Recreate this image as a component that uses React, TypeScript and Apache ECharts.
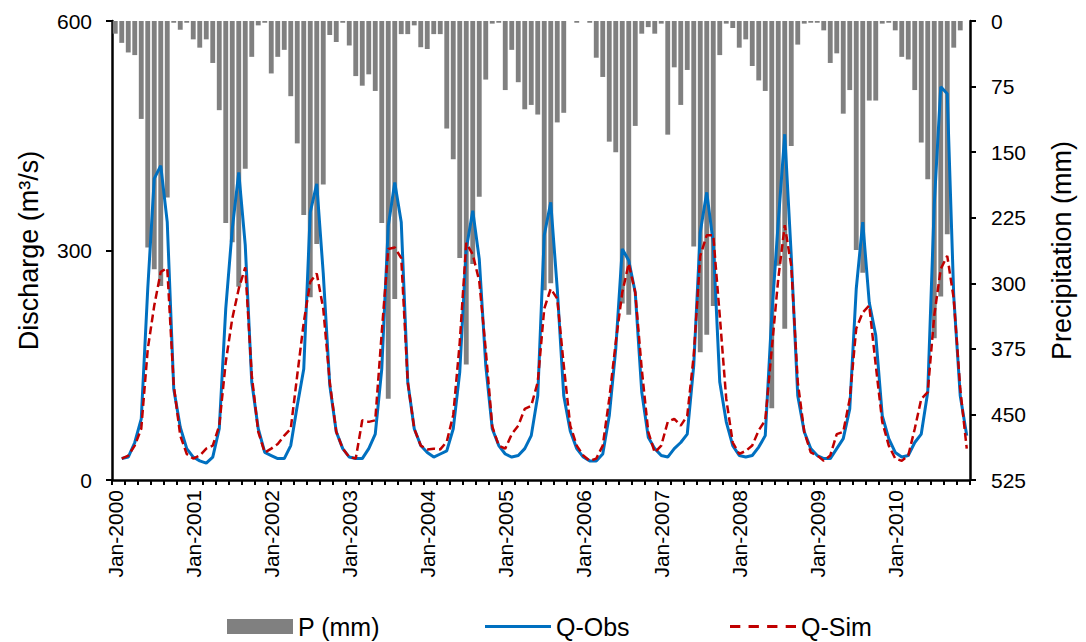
import React, { useEffect, useRef } from "react";
import * as echarts from "echarts";

// Tick labels / categories
const MONTHS = ["Jan", "Feb", "Mar", "Apr", "May", "Jun", "Jul", "Aug", "Sep", "Oct", "Nov", "Dec"];
const YEARS = [2000, 2001, 2002, 2003, 2004, 2005, 2006, 2007, 2008, 2009, 2010];
const CATEGORIES: string[] = [];
YEARS.forEach((y) => MONTHS.forEach((m) => CATEGORIES.push(`${m}-${y}`)));

// Monthly precipitation (mm), Jan-2000 .. Dec-2010
const P_MM: number[] = [
  14.5, 25, 36, 39, 112, 259, 284, 303, 202, 2, 10, 2,
  21, 30.5, 21, 48, 102, 231, 253, 304, 169, 41, 5, 2,
  60, 41, 33, 86, 140, 222, 316, 255, 187, 16, 24, 2,
  28, 63, 74, 61, 80, 231, 432, 318, 15, 15, 5, 30,
  32, 15, 15, 123, 158, 271, 393, 278, 201, 67, 3, 2,
  79, 33, 70, 101, 96, 107, 308, 300, 116, 105, 0, 2,
  0, 2, 42, 64, 138, 150, 323, 336, 120, 14.5, 7, 14.5,
  3, 130, 53, 96, 56, 258, 379, 359, 326, 39, 3, 8,
  30.5, 21, 51.5, 68, 80, 443, 280, 352, 143, 27, 3, 2,
  2, 10.7, 48, 37, 106, 79, 262, 288, 91, 91, 3, 2,
  10.7, 41, 44, 79, 139, 181, 363, 315, 244, 30.5, 10.7, 0,
];

// Observed discharge (m3/s)
const Q_OBS: (number | null)[] = [
  null, 28, 30, 49, 80, 250, 394, 411, 337, 119, 69, 41,
  30, 25, 22, 30, 67, 224, 328, 402, 307, 128, 67, 36,
  32, 28, 28, 45, 97, 145, 350, 387, 270, 124, 63, 41,
  30, 28, 28, 41, 60, 145, 332, 389, 337, 128, 67, 45,
  36, 30, 34, 38, 67, 141, 302, 352, 289, 150, 67, 45,
  34, 30, 32, 41, 58, 110, 320, 363, 250, 110, 64, 41,
  30, 25, 25, 34, 84, 171, 302, 287, 245, 115, 56, 41,
  32, 30, 41, 49, 60, 150, 324, 376, 310, 128, 76, 45,
  32, 30, 32, 43, 58, 215, 337, 452, 293, 110, 63, 41,
  32, 28, 28, 41, 54, 93, 250, 337, 232, 189, 84, 54,
  36, 30, 32, 49, 60, 115, 360, 514, 505, 240, 110, 58,
];

// Simulated discharge (m3/s)
const Q_SIM: (number | null)[] = [
  null, 28, 32, 45, 67, 171, 228, 272, 277, 124, 58, 34,
  28, 32, 41, 45, 71, 154, 211, 250, 278, 137, 63, 36,
  41, 47, 58, 67, 137, 206, 259, 270, 224, 128, 63, 41,
  30, 28, 78, 76, 78, 193, 302, 304, 290, 128, 67, 45,
  40, 41, 40, 50, 85, 180, 310, 295, 260, 170, 70, 45,
  41, 60, 71, 93, 97, 128, 224, 250, 237, 150, 71, 45,
  32, 25, 28, 45, 106, 180, 245, 283, 245, 145, 63, 36,
  45, 76, 80, 71, 84, 163, 293, 320, 320, 215, 106, 49,
  34, 38, 45, 65, 78, 171, 263, 333, 280, 128, 63, 36,
  32, 25, 32, 60, 63, 106, 198, 219, 228, 150, 76, 45,
  28, 25, 32, 67, 106, 115, 215, 276, 293, 237, 119, 41,
];

const FONT = "'Liberation Sans', Arial, Helvetica, sans-serif";

// legend icons (solid line and dashed line)
const ICON_SOLID = "path://M0 0H66V3H0Z";
const ICON_DASH = "path://M0 0H10V3H0Z M18 0H28V3H18Z M36 0H46V3H36Z M54 0H64V3H54Z";

const legendBase = {
  top: 609,
  itemWidth: 66,
  itemHeight: 15,
  textStyle: { fontSize: 25, color: "#000", fontFamily: FONT },
};

export default function App() {
  const ref = useRef<HTMLDivElement>(null);
  useEffect(() => {
    if (!ref.current) return;
    const chart = echarts.init(ref.current, undefined, { renderer: "svg" });
    chart.setOption({
      animation: false,
      backgroundColor: "#ffffff",
      textStyle: { fontFamily: FONT, color: "#000" },
      grid: { left: 112, right: 116, top: 21, bottom: 162, containLabel: false },
      legend: [
        { ...legendBase, left: 222, data: [{ name: "P (mm)", icon: "rect" }] },
        { ...legendBase, left: 480, data: [{ name: "Q-Obs", icon: ICON_SOLID }] },
        { ...legendBase, left: 725, data: [{ name: "Q-Sim", icon: ICON_DASH }] },
      ],
      xAxis: {
        type: "category",
        data: CATEGORIES,
        boundaryGap: true,
        axisLine: { show: true, lineStyle: { color: "#000", width: 2.5 } },
        axisTick: { show: true, interval: 1, length: 5, lineStyle: { color: "#000", width: 2 } },
        axisLabel: { interval: 11, rotate: 90, fontSize: 21, color: "#000", margin: 10, fontFamily: FONT },
        splitLine: { show: false },
      },
      yAxis: [
        {
          type: "value",
          position: "left",
          min: 0,
          max: 600,
          interval: 300,
          name: "Discharge (m³/s)",
          nameLocation: "middle",
          nameRotate: 90,
          nameGap: 70,
          nameTextStyle: { fontSize: 27, color: "#000", fontFamily: FONT },
          axisLine: { show: true, lineStyle: { color: "#000", width: 2.5 } },
          axisTick: { show: true, length: 6, lineStyle: { color: "#000", width: 2 } },
          axisLabel: { fontSize: 21, color: "#000", margin: 20, fontFamily: FONT },
          splitLine: { show: false },
        },
        {
          type: "value",
          position: "right",
          min: 0,
          max: 525,
          interval: 75,
          inverse: true,
          name: "Precipitation (mm)",
          nameLocation: "middle",
          nameRotate: 90,
          nameGap: 78,
          nameTextStyle: { fontSize: 27, color: "#000", fontFamily: FONT },
          axisLine: { show: true, lineStyle: { color: "#000", width: 2.5 } },
          axisTick: { show: true, length: 6, lineStyle: { color: "#000", width: 2 } },
          axisLabel: { fontSize: 21, color: "#000", margin: 21, fontFamily: FONT },
          splitLine: { show: false },
        },
      ],
      series: [
        {
          name: "P (mm)",
          type: "bar",
          yAxisIndex: 1,
          data: P_MM,
          barWidth: "75%",
          itemStyle: { color: "#808080" },
        },
        {
          name: "Q-Obs",
          type: "line",
          yAxisIndex: 0,
          data: Q_OBS,
          symbol: "none",
          showSymbol: false,
          lineStyle: { color: "#0070C0", width: 3 },
          itemStyle: { color: "#0070C0" },
        },
        {
          name: "Q-Sim",
          type: "line",
          yAxisIndex: 0,
          data: Q_SIM,
          symbol: "none",
          showSymbol: false,
          lineStyle: { color: "#C00000", width: 2.5, type: [8, 4] },
          itemStyle: { color: "#C00000" },
        },
      ],
    });
    return () => chart.dispose();
  }, []);
  return (
    <div
      ref={ref}
      style={{ position: "fixed", left: 0, top: 0, width: 1086, height: 642, background: "#fff" }}
    />
  );
}
